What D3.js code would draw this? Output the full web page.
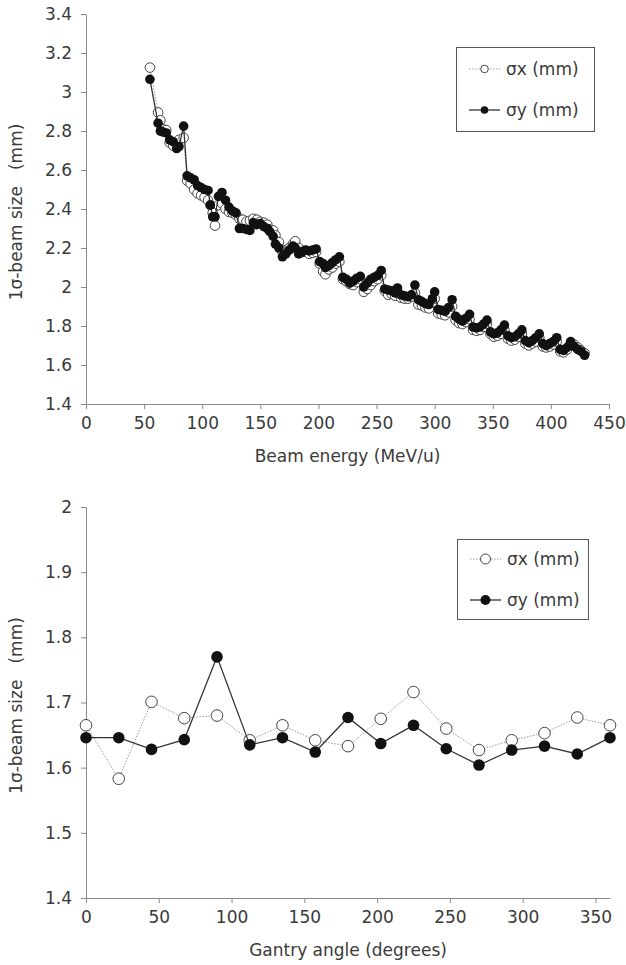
<!DOCTYPE html>
<html>
<head>
<meta charset="utf-8">
<script src="https://cdn.jsdelivr.net/npm/d3@7"></script>
<style>
  body { margin: 0; background: #fff; }
  svg { display: block; }
  text { font-family: "DejaVu Sans", sans-serif; fill: #3a3a3a; }
</style>
</head>
<body>
<div id="chart"></div>
<script>
// top panel: beam size vs energy
const energy = [55, 62, 64, 66, 69, 72, 75, 78, 80, 84, 87, 90, 93, 96, 99, 102, 105, 107, 109, 111,
  114, 117, 120, 123, 126, 129, 132, 135, 138, 141, 144, 147, 150, 153, 156, 158, 161, 163, 166, 169,
  172, 175, 178, 180, 183, 186, 189, 192, 195, 198, 201, 204, 206, 209, 212, 215, 218, 221, 224, 227,
  230, 233, 236, 239, 242, 245, 248, 251, 254, 257, 260, 263, 266, 268, 271, 274, 277, 280, 283, 286,
  289, 292, 295, 298, 300, 303, 306, 309, 312, 315, 318, 321, 324, 327, 330, 333, 336, 339, 342, 345,
  348, 351, 354, 357, 360, 363, 366, 369, 372, 375, 378, 381, 384, 387, 390, 393, 396, 399, 402, 405,
  408, 411, 414, 417, 420, 423, 426, 429];
const sigmaXEnergy = [3.125, 2.895, 2.855, 2.81, 2.805, 2.74, 2.725, 2.74, 2.755, 2.765, 2.545, 2.53, 2.50, 2.48, 2.47, 2.46, 2.445, 2.42, 2.38, 2.315,
  2.42, 2.43, 2.40, 2.385, 2.38, 2.37, 2.35, 2.345, 2.335, 2.34, 2.35, 2.345, 2.335, 2.33, 2.32, 2.295, 2.29, 2.265, 2.23, 2.18,
  2.19, 2.20, 2.22, 2.235, 2.20, 2.18, 2.18, 2.17, 2.175, 2.18, 2.12, 2.08, 2.065, 2.09, 2.10, 2.12, 2.13, 2.04, 2.03, 2.015,
  2.01, 2.025, 2.04, 1.975, 1.99, 2.01, 2.03, 2.04, 2.06, 1.98, 1.96, 1.965, 1.955, 1.97, 1.945, 1.94, 1.94, 1.95, 1.97, 1.91,
  1.905, 1.895, 1.89, 1.92, 1.94, 1.865, 1.86, 1.855, 1.87, 1.90, 1.83, 1.815, 1.81, 1.82, 1.835, 1.78, 1.775, 1.78, 1.795, 1.81,
  1.76, 1.745, 1.75, 1.76, 1.78, 1.735, 1.725, 1.73, 1.745, 1.76, 1.71, 1.70, 1.71, 1.72, 1.74, 1.695, 1.69, 1.695, 1.705, 1.72,
  1.67, 1.665, 1.68, 1.71, 1.705, 1.69, 1.675, 1.66];
const sigmaYEnergy = [3.065, 2.84, 2.80, 2.795, 2.79, 2.755, 2.745, 2.71, 2.72, 2.825, 2.57, 2.56, 2.55, 2.52, 2.51, 2.50, 2.495, 2.42, 2.36, 2.36,
  2.465, 2.485, 2.445, 2.41, 2.39, 2.38, 2.30, 2.30, 2.295, 2.29, 2.33, 2.32, 2.325, 2.31, 2.30, 2.285, 2.26, 2.22, 2.20, 2.155,
  2.17, 2.19, 2.21, 2.20, 2.17, 2.18, 2.19, 2.185, 2.19, 2.195, 2.13, 2.12, 2.10, 2.11, 2.125, 2.14, 2.155, 2.05, 2.04, 2.02,
  2.03, 2.045, 2.055, 2.00, 2.02, 2.04, 2.05, 2.06, 2.085, 1.99, 1.985, 1.98, 1.97, 1.995, 1.96, 1.955, 1.95, 1.96, 2.01, 1.935,
  1.925, 1.915, 1.91, 1.94, 1.975, 1.885, 1.88, 1.875, 1.895, 1.935, 1.85, 1.835, 1.825, 1.84, 1.86, 1.795, 1.79, 1.795, 1.81, 1.83,
  1.77, 1.76, 1.765, 1.78, 1.805, 1.75, 1.74, 1.745, 1.76, 1.78, 1.725, 1.715, 1.725, 1.74, 1.76, 1.71, 1.70, 1.71, 1.72, 1.74,
  1.68, 1.675, 1.69, 1.72, 1.695, 1.68, 1.67, 1.65];
const energyTicks = [0, 50, 100, 150, 200, 250, 300, 350, 400, 450];
const sizeTicksTop = [1.4, 1.6, 1.8, 2, 2.2, 2.4, 2.6, 2.8, 3, 3.2, 3.4];

// bottom panel: beam size vs gantry angle
const angle = [0, 22.5, 45, 67.5, 90, 112.5, 135, 157.5, 180, 202.5, 225, 247.5, 270, 292.5, 315, 337.5, 360];
const sigmaXAngle = [1.665, 1.583, 1.701, 1.676, 1.680, 1.642, 1.665, 1.642, 1.633, 1.675, 1.716, 1.660, 1.627, 1.642, 1.653, 1.677, 1.665];
const sigmaYAngle = [1.646, 1.646, 1.628, 1.643, 1.770, 1.635, 1.646, 1.624, 1.677, 1.637, 1.665, 1.629, 1.604, 1.627, 1.633, 1.621, 1.646];
const angleTicks = [0, 50, 100, 150, 200, 250, 300, 350];
const sizeTicksBottom = [1.4, 1.5, 1.6, 1.7, 1.8, 1.9, 2];

const legendLabels = ['σx (mm)', 'σy (mm)'];
const yTitle = '1σ-beam size';
const yTitleUnit = '(mm)';

const axisColor = '#8a8a8a'
const fontSize = 17

var svg = d3.select('#chart').append('svg').attr('width', 626).attr('height', 965);

drawPanel({
  x: d3.scaleLinear().domain([0, 450]).range([86, 609]),
  y: d3.scaleLinear().domain([1.4, 3.4]).range([404, 14]),
  xTicks: energyTicks, yTicks: sizeTicksTop,
  xs: energy, sx: sigmaXEnergy, sy: sigmaYEnergy,
  r: 4.8, xTitle: 'Beam energy (MeV/u)', xTitleY: 462,
  legend: { x: 456, y: 47, w: 138, h: 84, rows: [69, 110], r: 3.8 }
});

drawPanel({
  x: d3.scaleLinear().domain([0, 360]).range([86, 610]),
  y: d3.scaleLinear().domain([1.4, 2]).range([898, 507]),
  xTicks: angleTicks, yTicks: sizeTicksBottom,
  xs: angle, sx: sigmaXAngle, sy: sigmaYAngle,
  r: 5.8, xTitle: 'Gantry angle (degrees)', xTitleY: 956,
  legend: { x: 457, y: 539, w: 131, h: 80, rows: [559, 600], r: 5 }
});

function drawPanel(p) {
  var g = svg.append('g');
  var fmt = d3.format('~g');

  var xAxis = g.append('g')
    .attr('transform', `translate(0,${p.y.range()[0]})`)
    .call(d3.axisBottom(p.x).tickValues(p.xTicks).tickFormat(fmt).tickSize(5).tickSizeOuter(0).tickPadding(8));
  var yAxis = g.append('g')
    .attr('transform', `translate(${p.x.range()[0]},0)`)
    .call(d3.axisLeft(p.y).tickValues(p.yTicks).tickFormat(fmt).tickSize(5).tickSizeOuter(0).tickPadding(9));

  [xAxis, yAxis].forEach(a => {
    a.select('.domain').attr('stroke', axisColor);
    a.selectAll('.tick line').attr('stroke', axisColor);
    a.selectAll('.tick text')
      .style('font-family', '"DejaVu Sans", sans-serif')
      .style('font-size', fontSize + 'px')
      .attr('fill', '#3a3a3a');
  });

  // axis titles
  var cx = (p.x.range()[0] + p.x.range()[1]) / 2;
  g.append('text')
    .attr('x', cx).attr('y', p.xTitleY)
    .attr('text-anchor', 'middle')
    .style('font-size', fontSize + 'px')
    .text(p.xTitle);

  var cy = (p.y.range()[0] + p.y.range()[1]) / 2 + 3;
  var yt = g.append('text')
    .attr('transform', `translate(22,${cy}) rotate(-90)`)
    .attr('text-anchor', 'middle')
    .style('font-size', fontSize + 'px');
  yt.append('tspan').text(yTitle);
  yt.append('tspan').attr('dx', 16).text(yTitleUnit);

  var line = d3.line()
    .x((d, i) => p.x(p.xs[i]))
    .y(d => p.y(d));

  // sigma x: dotted grey line, open circles
  g.append('path')
    .attr('d', line(p.sx))
    .attr('fill', 'none')
    .attr('stroke', '#9a9a9a')
    .attr('stroke-width', 1)
    .attr('stroke-dasharray', '1.5,1.5');
  g.append('g').selectAll('circle')
    .data(p.sx)
    .join('circle')
    .attr('cx', (d, i) => p.x(p.xs[i]))
    .attr('cy', d => p.y(d))
    .attr('r', p.r)
    .attr('fill', '#fff')
    .attr('stroke', '#444')
    .attr('stroke-width', 1);

  // sigma y: solid dark line, filled circles
  g.append('path')
    .attr('d', line(p.sy))
    .attr('fill', 'none')
    .attr('stroke', '#333')
    .attr('stroke-width', 1.3);
  g.append('g').selectAll('circle')
    .data(p.sy)
    .join('circle')
    .attr('cx', (d, i) => p.x(p.xs[i]))
    .attr('cy', d => p.y(d))
    .attr('r', p.r)
    .attr('fill', '#111');

  drawLegend(g, p.legend);
}

function drawLegend(g, L) {
  g.append('rect')
    .attr('x', L.x + 0.5).attr('y', L.y + 0.5)
    .attr('width', L.w).attr('height', L.h)
    .attr('fill', '#fff')
    .attr('stroke', '#555')
    .attr('stroke-width', 1);

  legendLabels.forEach((label, i) => {
    var y = L.rows[i];
    var x0 = L.x + 13, x1 = L.x + 44, xm = (x0 + x1) / 2;
    g.append('line')
      .attr('x1', x0).attr('x2', x1).attr('y1', y).attr('y2', y)
      .attr('stroke', i == 0 ? '#9a9a9a' : '#333')
      .attr('stroke-width', i == 0 ? 1 : 1.3)
      .attr('stroke-dasharray', i == 0 ? '1.5,1.5' : null);
    g.append('circle')
      .attr('cx', xm).attr('cy', y).attr('r', L.r)
      .attr('fill', i == 0 ? '#fff' : '#111')
      .attr('stroke', i == 0 ? '#444' : 'none');
    g.append('text')
      .attr('x', x1 + 6).attr('y', y + 6)
      .style('font-size', fontSize + 'px')
      .text(label);
  });
}
</script>
</body>
</html>
